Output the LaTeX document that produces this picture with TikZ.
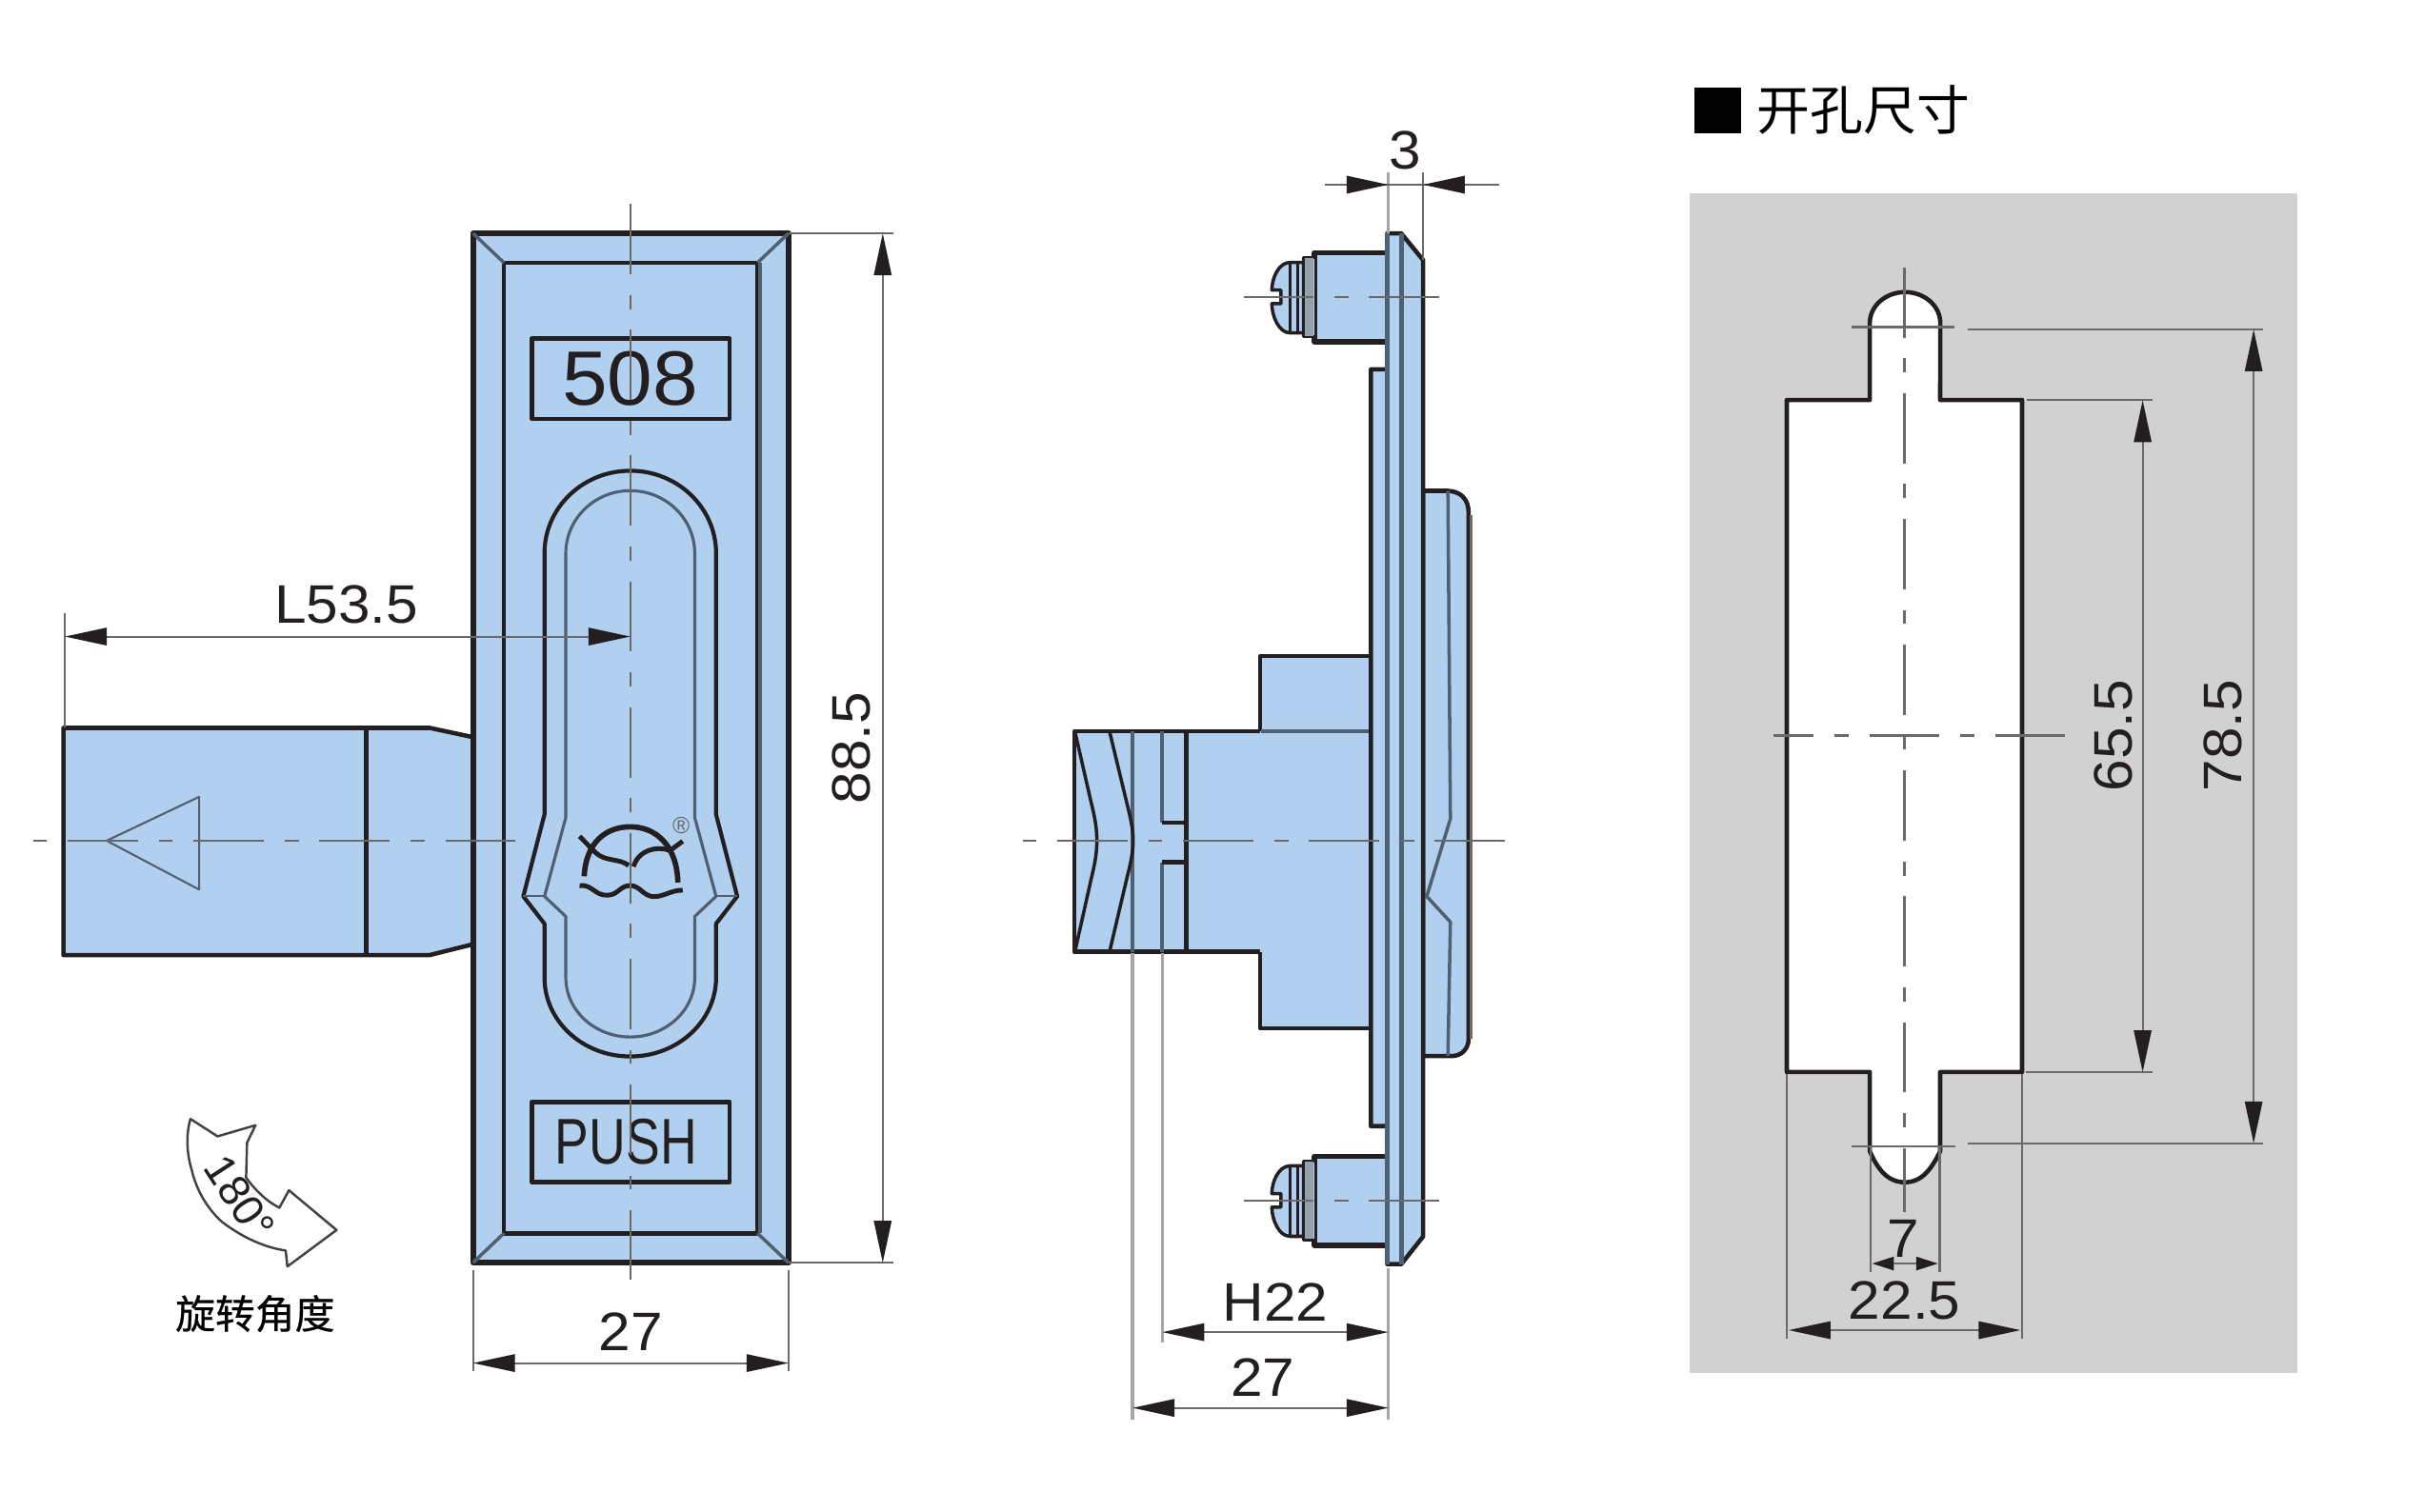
\documentclass[tikz,border=0pt]{standalone}
\usepackage{fontspec}
\setmainfont{Liberation Sans}
\newfontfamily\dimfont[FakeStretch=1.06]{Liberation Sans}
\newfontfamily\cjk{Noto Sans CJK SC}
\newfontfamily\cjkheavy[FakeBold=0.5]{Noto Sans CJK SC}
\usetikzlibrary{arrows.meta}
\definecolor{partblue}{HTML}{B1CFEF}
\definecolor{panelgray}{HTML}{D1D1D1}
\definecolor{inkdark}{HTML}{231F20}
\definecolor{edgegray}{HTML}{4F6072}
\definecolor{dimgray}{HTML}{6A6A6A}
\tikzset{
	partline/.style={draw=inkdark, line width=1.3pt},
	partfill/.style={partline, fill=partblue},
	edgeline/.style={draw=edgegray, line width=1pt},
	dimline/.style={draw=dimgray, line width=.6pt},
	extline/.style={draw=dimgray!60, line width=.95pt},
	centerline/.style={draw=dimgray, line width=.7pt, dash pattern=on 21pt off 6.2pt on 4.2pt off 6.2pt},
	dimtext/.style={font=\dimfont\fontsize{16.2}{18}\selectfont, text=inkdark, inner sep=0pt},
}
\begin{document}
\begin{tikzpicture}[x=0.016231cm, y=-0.016231cm, line join=round, >={Stealth[length=12.5pt,width=5.2pt,inset=0pt,color=inkdark]}]
	\useasboundingbox (0,0) rectangle (1568,977.8);
	\def\cx{407.7} % truc dung mat truoc
	\def\cy{544} % truc ngang tay nam
	\def\hx{1232} % truc lo khoet
	% mat truoc
	\draw[partfill] (41,471)--(278,471)--(306,477)--(306,611)--(278,618)--(41,618)--cycle;
	\draw[partline] (237,471)--(237,618);
	\draw[edgeline, line width=.6pt] (69,\cy)--(128.8,515.6)--(128.8,575.6)--cycle;
	\draw[partfill, line width=1.7pt] (306,151) rectangle (510,817);
	\draw[partline] (326,170) rectangle (490,798);
	\draw[edgeline] (491.5,170)--(491.5,798);
	\foreach \a/\b/\c/\d in {306/151/326/170, 510/151/490/170, 306/817/326/798, 510/817/490/798}
		\draw[edgeline] (\a,\b)--(\c,\d);
	\draw[partline] (344,219) rectangle (472,271);
	\draw[partline] (344,713) rectangle (472,765);
	\node[font=\dimfont\fontsize{23}{25}\selectfont, text=inkdark, inner sep=0pt] (num) at (\cx,245) {508};
	\node[font=\fontsize{19.3}{21}\selectfont, text=inkdark, inner sep=0pt, xscale=.79] (push) at (405,739) {PUSH};
	% tay cam
	\draw[partline, line width=1.2pt] (352.2,358) arc (180:360:55.5 and 53.4)--(463.2,527)--(476.9,580)--(463.2,597.7)--(463.2,632.6) arc (0:180:55.5 and 51)--(352.2,597.7)--(338.5,580)--(352.2,527)--cycle;
	\draw[edgeline, line width=.9pt] (366,358) arc (180:360:41.7 and 40.5)--(449.4,529)--(463.2,580)--(449.4,593)--(449.4,632.6) arc (0:180:41.7 and 38.4)--(366,593)--(352.2,580)--(366,529)--cycle;
	\draw[edgeline, line width=.6pt] (338.5,580)--(352.2,580) (476.9,580)--(463.2,580);
	% logo
	\draw[partline, line width=1.6pt] (377.9,567) .. controls (379,545) and (392,535) .. (407.7,535) .. controls (425,535) and (438,548) .. (438.5,571);
	\draw[partline, line width=1.4pt] (374.9,541.2)--(385.1,551.5) .. controls (392,558) and (400,555) .. (406.7,560);
	\draw[partline, line width=1.4pt] (441.6,544.3)--(433.4,550.4) .. controls (425,547) and (413,550) .. (409.8,560.7);
	\draw[partline, line width=1.4pt] (374.9,573) .. controls (383,572) and (385,580) .. (393.3,579.2) .. controls (400,579) and (401,573) .. (407.7,573) .. controls (414,573) and (416,580) .. (423.1,580.2) .. controls (430,580) and (434,576) .. (441.6,576);
	\node[font=\fontsize{7}{7}\selectfont, text=dimgray, inner sep=0pt] (reg) at (440.6,534) {®};
	% kich thuoc mat truoc
	\draw[centerline] (\cx,132)--(\cx,828);
	\draw[centerline] (333.5,\cy)--(20.5,\cy);
	\coordinate (La) at (42,411.9);
	\coordinate (Lb) at (\cx,411.9);
	\draw[dimline] (42,396.5)--(42,471);
	\draw[dimline, <->] (La)--(Lb);
	\node[dimtext] (lensize) at (224,391) {L53.5};
	\draw[dimline] (510,151)--(578,151) (510,817)--(578,817);
	\draw[dimline, <->] (571,151)--(571,817);
	\node[dimtext, rotate=90] (hsize) at (551,484) {88.5};
	\draw[dimline] (306,822)--(306,887) (510,822)--(510,887);
	\draw[dimline, <->] (306,882)--(510,882);
	\node[dimtext] (wsize) at (408,862) {27};
	% mui ten xoay
	\draw[dimline, draw=inkdark!85, line width=.7pt] (123.2,724)--(140.7,735.3)--(165.3,728.1)--(159.8,739.4)--(159.2,762) .. controls (165,770) and (172,777) .. (180.7,781.5)--(186.9,770.2)--(217.7,795.9)--(185.9,819.5)--(184.8,809.2) .. controls (170,807) and (156,800) .. (143.8,790.8) .. controls (134,782) and (127,770) .. (124,757) .. controls (121,747) and (120,735) .. (123.2,724)--cycle;
	\node[font=\fontsize{13}{14}\selectfont, text=inkdark, inner sep=0pt, rotate=-57] (angle) at (155,775) {180°};
	\node[font=\cjkheavy\fontsize{11.9}{13}\selectfont, text=black, inner sep=0pt] (anglecap) at (165,850) {旋转角度};
	% mat ben
	\draw[partfill] (694.9,473.2)--(886.8,473.2)--(886.8,615.9)--(694.9,615.9)--cycle;
	\draw[partfill] (815.1,473.2)--(815.1,424.5)--(886.8,424.5)--(886.8,665.4)--(815.1,665.4)--(815.1,615.9);
	\draw[partline, draw=none, fill=partblue] (816,474.5) rectangle (886,615);
	\draw[edgeline, line width=1.1pt] (732.6,473.2)--(732.6,615.9) (816,473.2)--(886.8,473.2);
	\draw[edgeline, line width=1.1pt] (751.9,473.2)--(751.9,532.3) (751.9,558)--(751.9,615.9);
	\draw[partline] (751.9,532.3)--(767.3,532.3) (751.9,558)--(767.3,558) (767.3,473.2)--(767.3,615.9);
	\draw[partline, line width=1pt] (695.3,473.2)--(706,520) .. controls (709,532) and (709.5,538) .. (709.5,544) .. controls (709.5,550) and (709,556) .. (706,568)--(695.3,615.9);
	\draw[partline, line width=1pt] (717.7,473.2)--(729,520) .. controls (732,532) and (733,538) .. (733,544) .. controls (733,550) and (732,556) .. (729,568)--(717.7,615.9);
	% nam xoay
	\draw[partfill] (920.5,317.6)--(936.6,317.6) .. controls (945,318) and (950,323) .. (950,332)--(950,672) .. controls (950,679) and (945,683.3) .. (939.4,683.3)--(920.5,683.3)--cycle;
	\draw[dimgray, line width=.8pt] (951.6,333)--(951.6,672);
	\draw[edgeline] (936.6,317.6)--(938.2,529.8)--(922.9,580)--(938.2,596.6)--(936.6,683.3);
	% hai chot
	\foreach \py in {192.2,776.8}{
		\draw[partfill, line width=1.5pt] (897.4,\py-28.7)--(850.3,\py-28.7)--(850.3,\py+29)--(897.4,\py+29);
		\draw[partline, fill=partblue, line width=1pt] (850.3,\py-25.6)--(843.2,\py-25.6)--(843.2,\py+25.7)--(850.3,\py+25.7);
		\draw[partfill, line width=1pt] (843.2,\py-22.4)--(834.5,\py-22.4) .. controls (827,\py-22.4) and (822.7,\py-12) .. (822.7,\py-4.5)--(828.6,\py-4.5)--(828.6,\py+4.3)--(822.7,\py+4.3) .. controls (822.7,\py+12) and (827,\py+23.2) .. (834.5,\py+23.2)--(843.2,\py+23.2)--cycle;
		\draw[partline, line width=.8pt] (834.5,\py-22.4)--(834.5,\py+23.2) (839.2,\py-22.4)--(839.2,\py+23.2);
		\draw[draw=none, fill=edgegray!60] (844,\py-25)rectangle(849.6,\py+25);
	}
	% tam de
	\draw[partfill] (897.4,151)--(906.4,151)--(920.5,168.2)--(920.5,800.2)--(906.4,818)--(897.4,818)--(897.4,728.7)--(886.8,728.7)--(886.8,239)--(897.4,239)--cycle;
	\draw[edgeline, line width=1.4pt] (897.4,239)--(897.4,728.7) (906.4,151)--(906.4,818);
	\draw[edgeline, line width=1.4pt] (897.4,151)--(897.4,239) (897.4,728.7)--(897.4,818);
	% kich thuoc mat ben
	\draw[centerline] (973.6,\cy)--(660.7,\cy);
	\foreach \py in {192.2,776.8}
		\draw[centerline] (931,\py)--(804.5,\py);
	\draw[extline] (898.1,111.6)--(898.1,151);
	\draw[dimline] (920.5,111.6)--(920.5,168);
	\draw[dimline] (856.9,119.5)--(970,119.5);
	\draw[dimline, ->] (871.5,119.5)--(898.1,119.5);
	\draw[dimline, ->] (948.5,119.5)--(920.5,119.5);
	\node[dimtext] (thick) at (908.7,97.5) {3};
	\draw[extline] (751.9,617)--(751.9,869) (732.6,617)--(732.6,918.5) (898.1,820.8)--(898.1,918.5);
	\draw[dimline, <->] (751.9,862)--(898.1,862);
	\node[dimtext] (hsize) at (825,842.8) {H22};
	\draw[dimline, <->] (732.6,911)--(898.1,911);
	\node[dimtext] (dsize) at (816.8,891) {27};
	% lo khoet
	\fill (1096,56.5) rectangle (1126,86.3);
	\node[font=\cjk\fontsize{15.9}{17}\selectfont, text=black, inner sep=0pt] (holecap) at (1205.5,71) {开孔尺寸};
	\fill[panelgray] (1092.8,125.2) rectangle (1486,888.3);
	\draw[partline, fill=white] (1155.8,258.8)--(1209.5,258.8)--(1209.5,209) arc (180:360:22.8 and 20)--(1255,258.8)--(1308,258.8)--(1308,693.7)--(1255,693.7)--(1255,745) .. controls (1250,755) and (1244,765) .. (1232.2,765) .. controls (1220,765) and (1214,755) .. (1209.5,745)--(1209.5,693.7)--(1155.8,693.7)--cycle;
	\draw[centerline] (\hx,173)--(\hx,784);
	\draw[centerline] (1336,476)--(1147,476);
	\draw[dimline] (1198,211.6)--(1264,211.6) (1198,742)--(1265,742);
	\draw[dimline] (1273,213.2)--(1464,213.2) (1273,739.8)--(1464,739.8);
	\draw[dimline] (1311,259)--(1392.5,259) (1310.4,693.7)--(1392.5,693.7);
	\draw[dimline, <->] (1386,259)--(1386,693.7);
	\draw[dimline, <->] (1457.8,213.2)--(1457.8,739.8);
	\node[dimtext, rotate=90] (cuth) at (1367,476) {65.5};
	\node[dimtext, rotate=90] (cutl) at (1438,476) {78.5};
	\draw[dimline] (1155.7,695)--(1155.7,866.5) (1308,695)--(1308,866.5);
	\draw[dimline] (1209.9,742)--(1209.9,823) (1254.7,742)--(1254.7,823);
	\draw[dimline, {Stealth[length=6.5pt,width=4pt,inset=0pt,color=inkdark]}-{Stealth[length=6.5pt,width=4pt,inset=0pt,color=inkdark]}] (1211,817.6)--(1253.6,817.6);
	\node[dimtext] (tabw) at (1231,801.6) {7};
	\draw[dimline, <->] (1157,860.7)--(1307,860.7);
	\node[dimtext] (cutw) at (1232,841.4) {22.5};
\end{tikzpicture}
\end{document}
